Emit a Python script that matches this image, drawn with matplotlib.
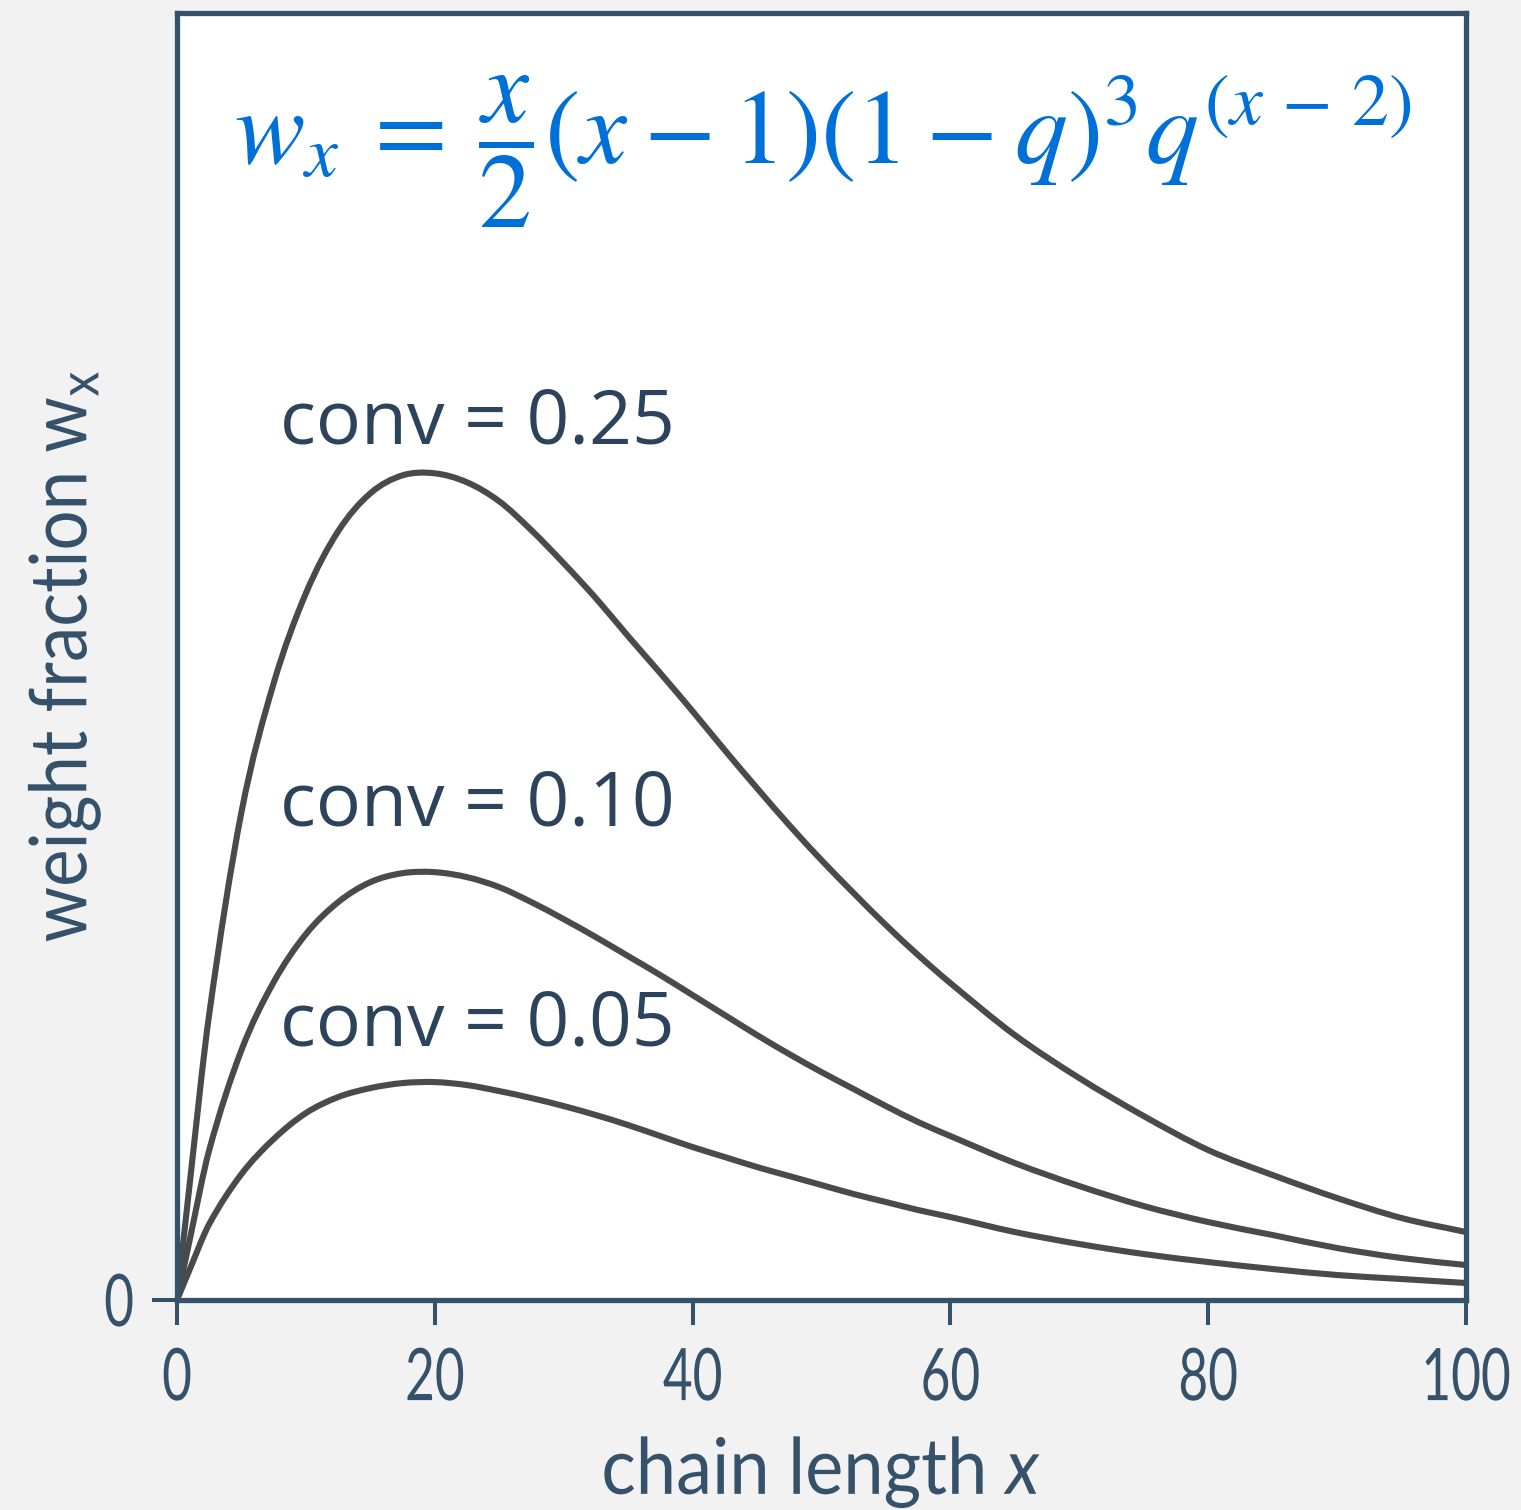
import matplotlib
matplotlib.use("Agg")
import matplotlib.pyplot as plt
from matplotlib.path import Path
from matplotlib.patches import PathPatch
from matplotlib.patheffects import AbstractPathEffect
from matplotlib.transforms import Affine2D

# ---- data ----
chain_length = [0, 1, 2.5, 5, 7.5, 10, 12.5, 15, 17.5, 20, 22.5, 25, 27.5, 30,
                32.5, 35, 37.5, 40, 42.5, 45, 47.5, 50, 52.5, 55, 57.5, 60,
                65, 70, 75, 80, 85, 90, 95, 100]
w_conv_025 = [0, 0.0118, 0.0286, 0.0488, 0.0617, 0.0707, 0.0769, 0.0807, 0.0825,
              0.0827, 0.0818, 0.0799, 0.0770, 0.0737, 0.0702, 0.0664, 0.0627,
              0.0589, 0.0550, 0.0512, 0.0475, 0.0440, 0.0407, 0.0375, 0.0345,
              0.0317, 0.0265, 0.0222, 0.0184, 0.0150, 0.0125, 0.0102, 0.0082, 0.0068]
w_conv_010 = [0, 0.0061, 0.0150, 0.0250, 0.0318, 0.0366, 0.0398, 0.0418, 0.0427,
              0.0428, 0.0423, 0.0413, 0.0398, 0.0381, 0.0363, 0.0344, 0.0325,
              0.0305, 0.0285, 0.0265, 0.0246, 0.0228, 0.0211, 0.0194, 0.0178,
              0.0164, 0.0137, 0.0114, 0.0094, 0.0078, 0.0065, 0.0052, 0.0042, 0.0035]
w_conv_005 = [0, 0.0031, 0.0076, 0.0126, 0.0161, 0.0187, 0.0203, 0.0212, 0.0217,
              0.0218, 0.0215, 0.0209, 0.0202, 0.0194, 0.0185, 0.0175, 0.0164,
              0.0153, 0.0143, 0.0133, 0.0124, 0.0115, 0.0106, 0.0098, 0.0090,
              0.0083, 0.0068, 0.0056, 0.0046, 0.0038, 0.0031, 0.0025, 0.0021, 0.0017]
curve_labels = ["conv = 0.25", "conv = 0.10", "conv = 0.05"]
label_y = [0.0857, 0.0475, 0.0255]
x_ticks = [0, 20, 40, 60, 80, 100]
y_ticks = [0]

SLATE = "#36526b"
TEXT_DARK = "#2d435b"
LINE = "#4a4a4a"
BLUE = "#0070d9"

plt.rcParams["mathtext.fontset"] = "custom"
plt.rcParams["mathtext.it"] = "Lato:italic"
plt.rcParams["mathtext.rm"] = "Lato"


class Stretch(AbstractPathEffect):
    """Scale glyph outlines about their own centre (text stays a Text)."""

    def __init__(self, sx=1.0, sy=1.0):
        super().__init__()
        self.sx, self.sy = sx, sy

    def draw_path(self, renderer, gc, tpath, affine, rgbFace=None):
        ext = tpath.get_extents()
        cx = (ext.x0 + ext.x1) / 2
        cy = (ext.y0 + ext.y1) / 2
        pre = Affine2D().translate(-cx, -cy).scale(self.sx, self.sy).translate(cx, cy)
        renderer.draw_path(gc, tpath, pre + affine, rgbFace)


def smooth_path(xs, ys):
    """Cubic Hermite curve through the read points, as Bezier segments."""
    n = len(xs)
    slopes = []
    for i in range(n):
        if i == 0:
            slopes.append((ys[1] - ys[0]) / (xs[1] - xs[0]))
        elif i == n - 1:
            slopes.append((ys[-1] - ys[-2]) / (xs[-1] - xs[-2]))
        else:
            slopes.append((ys[i + 1] - ys[i - 1]) / (xs[i + 1] - xs[i - 1]))
    verts = [(xs[0], ys[0])]
    codes = [Path.MOVETO]
    for i in range(n - 1):
        h = xs[i + 1] - xs[i]
        verts += [(xs[i] + h / 3, ys[i] + slopes[i] * h / 3),
                  (xs[i + 1] - h / 3, ys[i + 1] - slopes[i + 1] * h / 3),
                  (xs[i + 1], ys[i + 1])]
        codes += [Path.CURVE4] * 3
    return Path(verts, codes)


fig = plt.figure(figsize=(15.21, 15.10), dpi=100, facecolor="#f2f2f2")
ax = fig.add_axes([177 / 1521, 1 - 1300 / 1510, (1466 - 177) / 1521, (1300 - 12.5) / 1510])
ax.set_facecolor("white")

for ys in (w_conv_025, w_conv_010, w_conv_005):
    ax.add_patch(PathPatch(smooth_path(chain_length, ys), facecolor="none",
                           edgecolor=LINE, lw=4.4, capstyle="butt",
                           joinstyle="round", transform=ax.transData))

ax.set_xlim(0, 100)
ax.set_ylim(0, 0.1288)

for s in ax.spines.values():
    s.set_color(SLATE)
    s.set_linewidth(3.8)

ax.set_xticks(x_ticks)
ax.set_yticks(y_ticks)
ax.set_xticklabels([str(v) for v in x_ticks])
ax.set_yticklabels(["0"])
ax.tick_params(axis="both", direction="out", length=18, width=2.9, color=SLATE,
               labelcolor=SLATE, labelsize=37)
ax.tick_params(axis="x", pad=22)
ax.tick_params(axis="y", pad=13)
for lab in ax.get_xticklabels() + ax.get_yticklabels():
    lab.set_family("Lato")
    lab.set_path_effects([Stretch(1.0, 1.41)])
for ln in ax.xaxis.get_ticklines() + ax.yaxis.get_ticklines():
    ln.set_solid_capstyle("round")

ax.set_xlabel("chain length $x$", fontsize=52, color=SLATE, family="Lato",
              math_fontfamily="custom", va="baseline",
              path_effects=[Stretch(1.0, 1.08)])
ax.xaxis.set_label_coords(0.5, -0.1495)
ax.set_ylabel(r"weight fraction w$_\mathregular{x}$", fontsize=51, color=SLATE,
              family="Lato", math_fontfamily="custom", va="baseline",
              ha="center", rotation_mode="anchor",
              path_effects=[Stretch(1.0, 1.12)])
ax.yaxis.set_label_coords(-0.072, 0.5)

for txt, yy in zip(curve_labels, label_y):
    ax.text(8.0, yy, txt, fontsize=54, color=TEXT_DARK, family="Open Sans",
            ha="left", va="baseline")

ax.text(0.501, 0.8830,
        r"$w_x \:=\: \dfrac{x}{2}(x \:-\: 1)(1 \:-\: q)^3q^{(x\,-\,2)}$",
        transform=ax.transAxes, ha="center", va="baseline", fontsize=76,
        color=BLUE, math_fontfamily="stix")

fig.savefig("out.png", dpi=100, facecolor=fig.get_facecolor())
